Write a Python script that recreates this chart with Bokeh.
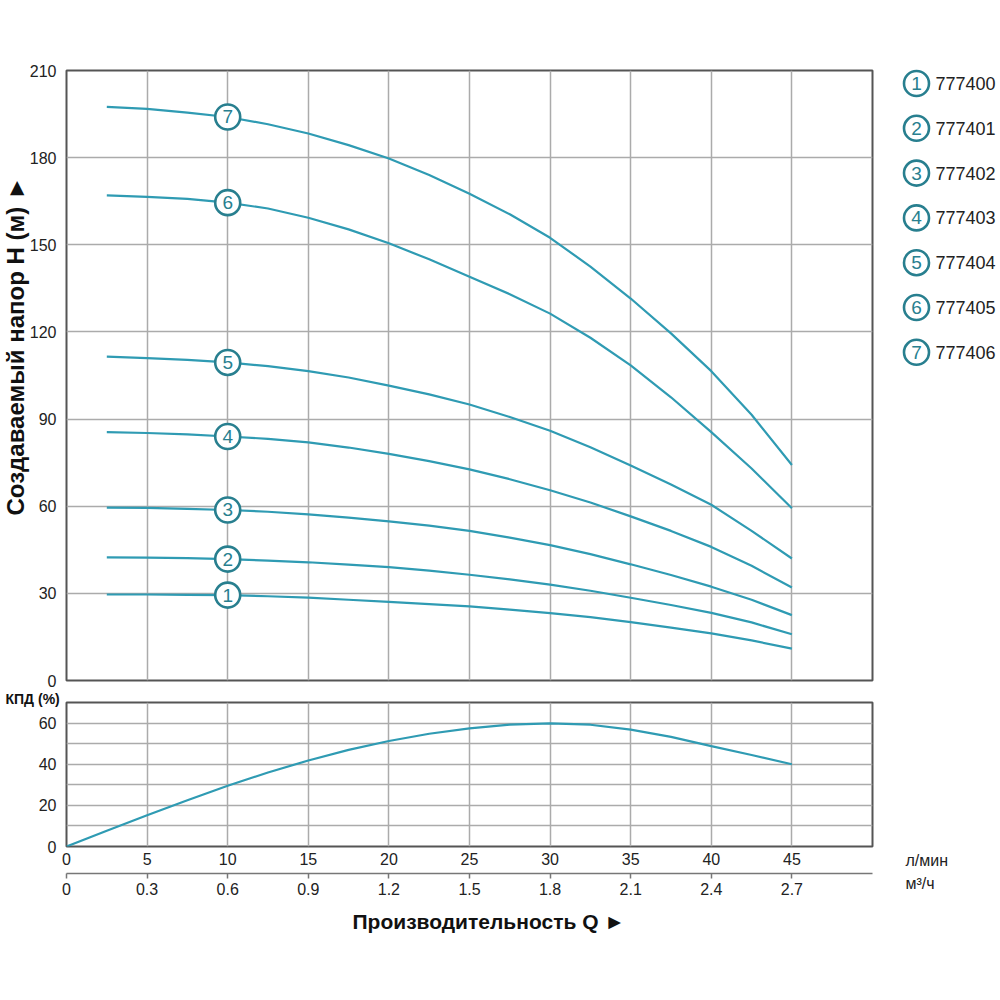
from bokeh.plotting import figure
from bokeh.models import Range1d, LinearAxis, FixedTicker, Grid, Title, ColumnDataSource
from bokeh.layouts import row, column
from bokeh.embed import file_html
from bokeh.resources import INLINE
from bokeh.core.properties import value

# ---------------- data ----------------
flow_lpm = [2.5, 5, 7.5, 10, 12.5, 15, 17.5, 20, 22.5, 25, 27.5, 30, 32.5, 35, 37.5, 40, 42.5, 45]

head_777400 = [29.6, 29.6, 29.5, 29.4, 29.0, 28.5, 27.8, 27.1, 26.3, 25.5, 24.4, 23.2, 21.8, 20.1, 18.2, 16.2, 13.8, 11.0]
head_777401 = [42.4, 42.3, 42.1, 41.8, 41.3, 40.7, 39.9, 39.0, 37.8, 36.4, 34.8, 33.0, 30.9, 28.5, 26.0, 23.3, 20.0, 15.9]
head_777402 = [59.5, 59.4, 59.1, 58.7, 58.1, 57.2, 56.1, 54.8, 53.3, 51.5, 49.2, 46.6, 43.5, 40.0, 36.3, 32.3, 27.8, 22.5]
head_777403 = [85.5, 85.2, 84.7, 84.0, 83.2, 82.0, 80.2, 78.0, 75.5, 72.7, 69.3, 65.5, 61.3, 56.5, 51.5, 46.0, 39.5, 32.0]
head_777404 = [111.5, 111.0, 110.4, 109.5, 108.2, 106.5, 104.3, 101.5, 98.5, 95.0, 90.7, 86.0, 80.3, 74.0, 67.5, 60.5, 51.5, 42.0]
head_777405 = [167.0, 166.5, 165.8, 164.5, 162.5, 159.3, 155.3, 150.5, 145.0, 139.0, 133.0, 126.3, 118.0, 108.5, 97.5, 85.5, 73.0, 59.3]
head_777406 = [197.5, 196.8, 195.5, 194.0, 191.5, 188.3, 184.3, 179.7, 174.0, 167.6, 160.5, 152.4, 142.5, 131.5, 119.5, 106.5, 91.5, 74.2]

series_names = ["777400", "777401", "777402", "777403", "777404", "777405", "777406"]
marker_numbers = ["1", "2", "3", "4", "5", "6", "7"]
marker_flow = 10

eff_flow = [0, 2.5, 5, 7.5, 10, 12.5, 15, 17.5, 20, 22.5, 25, 27.5, 30, 32.5, 35, 37.5, 40, 42.5, 45]
efficiency = [0, 7.7, 15.2, 22.5, 29.5, 36.0, 41.8, 47.0, 51.3, 54.8, 57.4, 59.2, 59.9, 59.2, 56.8, 53.3, 48.8, 44.5, 40.0]

head_ticks = [0, 30, 60, 90, 120, 150, 180, 210]
head_grid = [30, 60, 90, 120, 150, 180]
eff_ticks = [0, 20, 40, 60]
eff_grid = [10, 20, 30, 40, 50, 60]
flow_ticks = [0, 5, 10, 15, 20, 25, 30, 35, 40, 45]
flow_labels = ["0", "5", "10", "15", "20", "25", "30", "35", "40", "45"]
flow_grid = [5, 10, 15, 20, 25, 30, 35, 40, 45]
m3h_ticks = [0, 0.3, 0.6, 0.9, 1.2, 1.5, 1.8, 2.1, 2.4, 2.7]
m3h_labels = ["0", "0.3", "0.6", "0.9", "1.2", "1.5", "1.8", "2.1", "2.4", "2.7"]

y_title = "Создаваемый напор H (м) ►"
x_title = "Производительность Q ►"
eff_title = "КПД (%)"
unit_lpm = "л/мин"
unit_m3h = "м³/ч"

# ---------------- style ----------------
FONT = "Liberation Sans"
LINE = "#2f9bb3"
RING = "#287f8f"
GRID = "#ababab"
FRAME = "#555555"
TXT = "#222222"
TITLE = "#111111"


def style_axis(ax):
    ax.axis_line_color = None
    ax.major_tick_out = 0
    ax.major_tick_in = 0
    ax.minor_tick_out = 0
    ax.minor_tick_in = 0
    ax.major_label_text_font = FONT
    ax.major_label_text_font_size = "16px"
    ax.major_label_text_color = TXT


def add_grids(p, xt, yt):
    p.center = [r for r in p.center if not isinstance(r, Grid)]
    p.add_layout(Grid(dimension=0, ticker=FixedTicker(ticks=xt), grid_line_color=GRID, grid_line_width=1.5))
    p.add_layout(Grid(dimension=1, ticker=FixedTicker(ticks=yt), grid_line_color=GRID, grid_line_width=1.5))


# ---------------- top: head curves ----------------
top = figure(width=892, height=692, x_range=Range1d(0, 50), y_range=Range1d(0, 210),
             output_backend="svg", toolbar_location=None, x_axis_location=None, title=None,
             min_border_left=66, min_border_right=20, min_border_top=70, min_border_bottom=12)
top.outline_line_color = FRAME
top.outline_line_width = 2
add_grids(top, flow_grid, head_grid)
top.yaxis.ticker = FixedTicker(ticks=head_ticks)
style_axis(top.yaxis[0])
top.yaxis.major_label_standoff = 10

heads = [head_777400, head_777401, head_777402, head_777403, head_777404, head_777405, head_777406]
for h in heads:
    top.line(flow_lpm, h, line_color=LINE, line_width=2.2)

idx = flow_lpm.index(marker_flow)
msrc = ColumnDataSource(dict(x=[marker_flow] * len(heads), y=[h[idx] for h in heads], t=marker_numbers))
top.scatter("x", "y", source=msrc, size=25, fill_color="white", line_color=RING, line_width=2.6)
top.text("x", "y", text="t", source=msrc, text_align="center", text_baseline="middle",
         text_font=value(FONT), text_font_size="19px", text_color=RING)

top.add_layout(Title(text=y_title, align="left", offset=165, vertical_align="middle", standoff=-7,
                     text_font=FONT, text_font_style="bold", text_font_size="24px",
                     text_color=TITLE), "left")

# ---------------- bottom: efficiency ----------------
bot = figure(width=892, height=262, x_range=Range1d(0, 50), y_range=Range1d(0, 70),
             output_backend="svg", toolbar_location=None, title=None,
             min_border_left=66, min_border_right=20, min_border_top=9, min_border_bottom=108)
bot.outline_line_color = FRAME
bot.outline_line_width = 2
bot.extra_x_ranges = {"m3h": Range1d(0, 3.0)}
add_grids(bot, flow_grid, eff_grid)

bot.yaxis.ticker = FixedTicker(ticks=eff_ticks)
style_axis(bot.yaxis[0])
bot.yaxis.major_label_standoff = 10

bot.xaxis.ticker = FixedTicker(ticks=flow_ticks)
style_axis(bot.xaxis[0])
bot.xaxis.major_label_standoff = 4
# a trailing empty line gives the space between the two scales
bot.xaxis.major_label_overrides = {t: lab + "\n" for t, lab in zip(flow_ticks, flow_labels)}
bot.xaxis.major_label_text_line_height = 0.2

ax2 = LinearAxis(x_range_name="m3h", ticker=FixedTicker(ticks=m3h_ticks),
                 major_label_overrides=dict(zip(m3h_ticks, m3h_labels)))
style_axis(ax2)
ax2.axis_line_color = "#777777"
ax2.axis_line_width = 1.5
ax2.major_tick_out = 5
ax2.major_tick_line_color = "#777777"
ax2.major_tick_line_width = 1.5
ax2.major_label_standoff = 4
bot.add_layout(ax2, "below")

bot.line(eff_flow, efficiency, line_color=LINE, line_width=2.2)

bot.add_layout(Title(text=x_title, align="left", offset=286, vertical_align="top", standoff=24,
                     text_font=FONT, text_font_style="bold", text_font_size="21px",
                     text_color=TITLE), "below")
bot.add_layout(Title(text=eff_title, align="left", offset=-61, vertical_align="bottom", standoff=-8,
                     text_font=FONT, text_font_style="bold", text_font_size="14px",
                     text_color=TITLE), "above")

# ---------------- legend / units column ----------------
H = 692 + 262
leg = figure(width=108, height=H, x_range=Range1d(0, 108), y_range=Range1d(H, 0),
             output_backend="svg", toolbar_location=None, x_axis_location=None, y_axis_location=None,
             title=None, min_border=0, min_border_left=0, min_border_right=0,
             min_border_top=0, min_border_bottom=0)
leg.outline_line_color = None
leg.grid.visible = False

legend_y = [83 + 44.8 * i for i in range(len(series_names))]
lsrc = ColumnDataSource(dict(cx=[24] * len(series_names), tx=[43] * len(series_names), y=legend_y,
                             num=marker_numbers, name=series_names))
leg.scatter("cx", "y", source=lsrc, size=25, fill_color="white", line_color=RING, line_width=2.6)
leg.text("cx", "y", text="num", source=lsrc, text_align="center", text_baseline="middle",
         text_font=value(FONT), text_font_size="19px", text_color=RING)
leg.text("tx", "y", text="name", source=lsrc, text_align="left", text_baseline="middle",
         text_font=value(FONT), text_font_size="18px", text_color=TXT)

usrc = ColumnDataSource(dict(x=[13, 13], y=[860, 883], t=[unit_lpm, unit_m3h]))
leg.text("x", "y", text="t", source=usrc, text_align="left", text_baseline="middle",
         text_font=value(FONT), text_font_size="16px", text_color=TXT)

layout = row(column(top, bot), leg)
open("out.html", "w").write(file_html(layout, INLINE))
